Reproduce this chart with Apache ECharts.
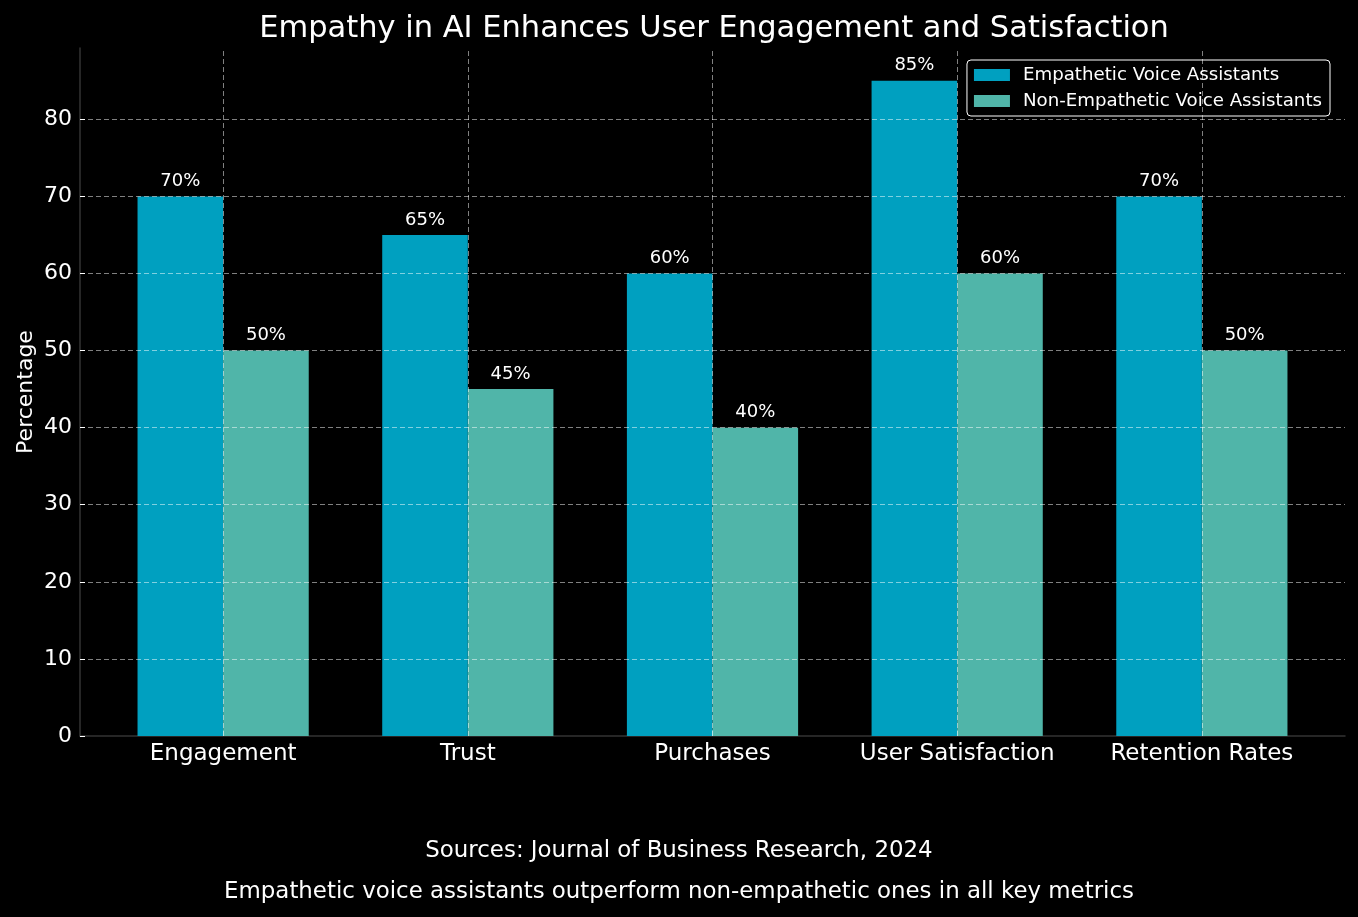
<!DOCTYPE html>
<html>
<head>
<meta charset="utf-8">
<script src="https://cdn.jsdelivr.net/npm/echarts@6/dist/echarts.min.js"></script>
<style>html,body{margin:0;padding:0;background:#000;}#c{width:1358px;height:917px;}</style>
</head>
<body>
<div id="c"></div>
<script>
const categories = ['Engagement', 'Trust', 'Purchases', 'User Satisfaction', 'Retention Rates'];
const empathetic = [70, 65, 60, 85, 70];
const nonEmpathetic = [50, 45, 40, 60, 50];
const yTicks = [0, 10, 20, 30, 40, 50, 60, 70, 80];
const seriesNames = ['Empathetic Voice Assistants', 'Non-Empathetic Voice Assistants'];
const titleText = 'Empathy in AI Enhances User Engagement and Satisfaction';
const sourceText = 'Sources: Journal of Business Research, 2024';
const noteText = 'Empathetic voice assistants outperform non-empathetic ones in all key metrics';

const FONT = 'DejaVu Sans';
const catIdx = categories.map((_, i) => i);
const gridLine = { color: 'rgba(255,255,255,0.5)', width: 1, type: [5, 3] };

const chart = echarts.init(document.getElementById('c'), null, { renderer: 'canvas' });
chart.setOption({
  backgroundColor: '#000',
  animation: false,
  textStyle: { fontFamily: FONT },
  title: [
    { text: titleText, left: 709, textAlign: 'center', top: 9,
      textStyle: { color: '#fff', fontSize: 30.5, fontWeight: 'normal', fontFamily: FONT } },
    { text: sourceText, left: 'center', top: 835,
      textStyle: { color: '#fff', fontSize: 22.9, fontWeight: 'normal', fontFamily: FONT } },
    { text: noteText, left: 'center', top: 876,
      textStyle: { color: '#fff', fontSize: 22.9, fontWeight: 'normal', fontFamily: FONT } }
  ],
  legend: {
    orient: 'vertical', right: 28, top: 60,
    data: seriesNames,
    itemWidth: 36, itemHeight: 12, itemGap: 8,
    padding: [6, 8, 6, 7],
    borderColor: '#fff', borderWidth: 1, borderRadius: 4,
    backgroundColor: '#000',
    icon: 'rect',
    textStyle: { color: '#fff', fontSize: 18.2, fontFamily: FONT, padding: [0, 0, 0, 8] }
  },
  grid: { left: 80, right: 13, top: 48, bottom: 181, outerBoundsMode: 'none', containLabel: false },
  xAxis: {
    type: 'value', min: -0.585, max: 4.585,
    axisLine: { show: true, onZero: false, lineStyle: { color: '#333', width: 1.5 } },
    axisTick: { show: true, inside: true, length: 6, customValues: catIdx, lineStyle: { color: '#fff' } },
    axisLabel: { customValues: catIdx, formatter: v => categories[Math.round(v)], color: '#fff',
      fontSize: 23, fontFamily: FONT, margin: 7 },
    splitLine: { show: false }
  },
  yAxis: {
    type: 'value', min: 0, max: 89.25,
    name: 'Percentage', nameLocation: 'middle', nameGap: 43, nameRotate: 90, nameMoveOverlap: false,
    nameTextStyle: { color: '#fff', fontSize: 22, fontFamily: FONT },
    axisLine: { show: true, onZero: false, lineStyle: { color: '#333', width: 1.5 } },
    axisTick: { show: true, inside: true, length: 5, customValues: yTicks, lineStyle: { color: '#fff' } },
    axisLabel: { customValues: yTicks, color: '#fff', fontSize: 22, fontFamily: FONT, margin: 8 },
    splitLine: { show: false }
  },
  series: [
    {
      name: seriesNames[0], type: 'bar', barWidth: 85.6, barGap: '0%',
      itemStyle: { color: '#00A0C0' },
      data: empathetic.map((v, i) => [i, v]),
      label: { show: true, position: 'top', distance: 6, color: '#fff', fontSize: 18, fontFamily: FONT,
        formatter: p => p.value[1] + '%' }
    },
    {
      name: seriesNames[1], type: 'bar', barWidth: 85.6, barGap: '0%',
      itemStyle: { color: '#50B5A9' },
      data: nonEmpathetic.map((v, i) => [i, v]),
      label: { show: true, position: 'top', distance: 6, color: '#fff', fontSize: 18, fontFamily: FONT,
        formatter: p => p.value[1] + '%' }
    },
    {
      name: 'grid', type: 'line', data: [], silent: true,
      markLine: {
        silent: true, symbol: 'none', z: 10,
        label: { show: false },
        lineStyle: gridLine,
        data: yTicks.filter(t => t > 0).map(t => ({ yAxis: t }))
          .concat(catIdx.map(i => ({ xAxis: i })))
      }
    }
  ]
});
</script>
</body>
</html>
